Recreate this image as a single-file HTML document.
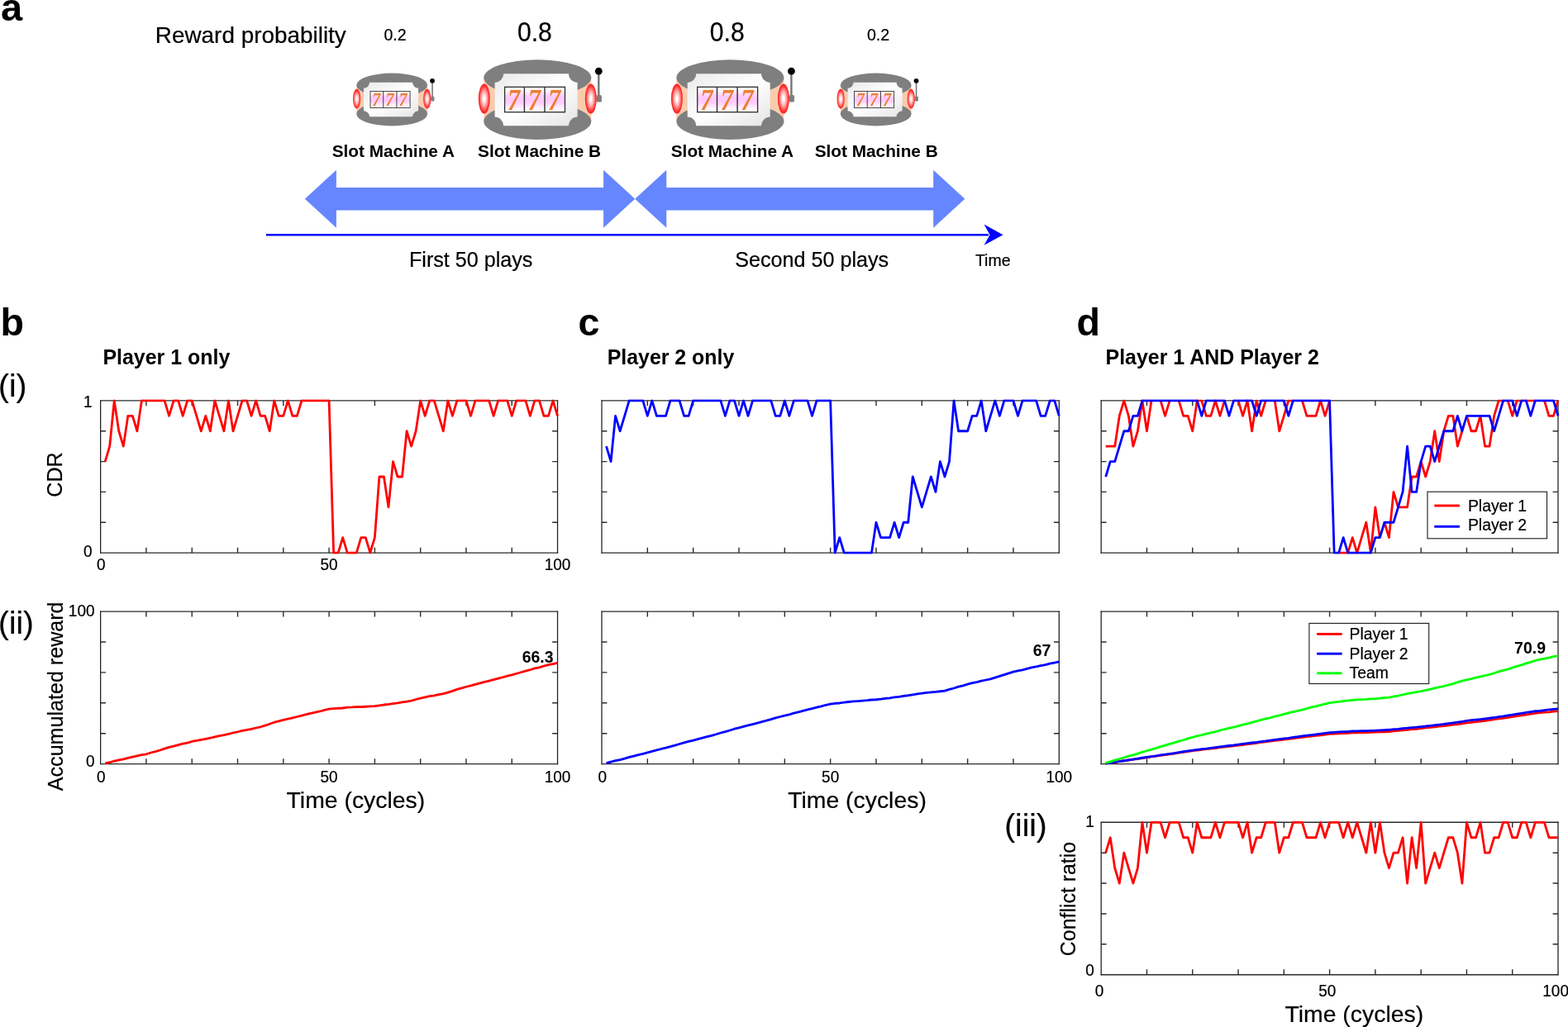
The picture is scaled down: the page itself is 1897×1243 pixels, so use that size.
<!DOCTYPE html>
<html lang="en"><head><meta charset="utf-8"><title>Figure</title>
<style>html,body{margin:0;padding:0;background:#fff}body{width:1897px;height:1243px;overflow:hidden}svg{display:block}text{font-family:"Liberation Sans",sans-serif}.r{stroke:#000;stroke-width:0.2px}.sv{font-family:"Liberation Serif",serif;font-style:italic;font-weight:bold}</style>
</head><body>
<svg width="1897" height="1243" viewBox="0 0 1897 1243">
<defs>
<radialGradient id="lamp" cx="50%" cy="50%" r="50%"><stop offset="0" stop-color="#fff"/><stop offset="0.12" stop-color="#fff"/><stop offset="0.5" stop-color="#ffa8a8"/><stop offset="0.85" stop-color="#ff3434"/><stop offset="1" stop-color="#ff1a1a"/></radialGradient>
<linearGradient id="reel" x1="0" y1="0" x2="0" y2="1"><stop offset="0" stop-color="#fff"/><stop offset="0.1" stop-color="#fffbff"/><stop offset="0.38" stop-color="#ffcaff"/><stop offset="0.6" stop-color="#ffcaff"/><stop offset="0.9" stop-color="#fffbff"/><stop offset="1" stop-color="#fff"/></linearGradient>
<linearGradient id="panel" x1="0" y1="0" x2="1" y2="1"><stop offset="0" stop-color="#e9e9e9"/><stop offset="0.5" stop-color="#ffffff"/><stop offset="1" stop-color="#e4e4e4"/></linearGradient>
<g id="slot">
<rect x="-65" y="-26.5" width="130" height="52.8" fill="#f8cbad"/>
<ellipse cx="0" cy="-26.5" rx="65" ry="21.8" fill="#7f7f7f"/>
<ellipse cx="0" cy="26.3" rx="65" ry="22" fill="#7f7f7f"/>
<path d="M74 -34V-2" stroke="#757575" stroke-width="2.4" fill="none"/>
<rect x="71.2" y="-5.6" width="6.4" height="8.6" rx="1.5" fill="#7f7f7f"/>
<circle cx="74" cy="-34.4" r="4.4" fill="#000"/>
<path d="M-41.1 -31.3H37.7A10.6 10.6 0 0 0 48.3 -20.7V21A10.6 10.6 0 0 0 37.7 31.6H-41.1A10.6 10.6 0 0 0 -51.7 21V-20.7A10.6 10.6 0 0 0 -41.1 -31.3Z" fill="url(#panel)"/>
<ellipse cx="-64.5" cy="-1.2" rx="7" ry="18" fill="url(#lamp)"/>
<ellipse cx="64.5" cy="-1.2" rx="7" ry="18" fill="url(#lamp)"/>
<rect x="-39.7" y="-15.3" width="72.9" height="30.4" fill="url(#reel)" stroke="#2e2e2e" stroke-width="1.3"/>
<path d="M-15.9 -15.3V15.1M8.7 -15.3V15.1" stroke="#2e2e2e" stroke-width="1.4" fill="none"/>
<text class="sv" transform="translate(-28.6 12.1) scale(0.9 1.035)" font-size="34" text-anchor="middle" fill="#ed7d31">7</text>
<text class="sv" transform="translate(-4 12.1) scale(0.9 1.035)" font-size="34" text-anchor="middle" fill="#ed7d31">7</text>
<text class="sv" transform="translate(20.4 12.1) scale(0.9 1.035)" font-size="34" text-anchor="middle" fill="#ed7d31">7</text>
</g>
</defs>
<rect width="1897" height="1243" fill="#fff"/>
<text x="0.9" y="24.7" font-size="47" font-weight="bold" text-anchor="start" fill="#000">a</text>
<text x="187.8" y="51.7" font-size="27.9" font-weight="normal" text-anchor="start" fill="#000" class="r">Reward probability</text>
<text transform="translate(478 48.8) scale(1 1.04)" font-size="19.6" font-weight="normal" text-anchor="middle" fill="#000" class="r">0.2</text>
<text class="r" transform="translate(646.9 50.1) scale(1 1.085)" font-size="30.2" text-anchor="middle">0.8</text>
<text class="r" transform="translate(879.8 50.1) scale(1 1.085)" font-size="30.2" text-anchor="middle">0.8</text>
<text transform="translate(1062.5 48.8) scale(1 1.04)" font-size="19.6" font-weight="normal" text-anchor="middle" fill="#000" class="r">0.2</text>
<use href="#slot" transform="translate(474.2 120.5) scale(0.66)"/>
<use href="#slot" transform="translate(650.3 120.6)"/>
<use href="#slot" transform="translate(883.4 120.6)"/>
<use href="#slot" transform="translate(1059.7 120.5) scale(0.66)"/>
<text x="475.8" y="190.4" font-size="20.8" font-weight="bold" text-anchor="middle" fill="#000">Slot Machine A</text>
<text x="652.6" y="190.4" font-size="20.8" font-weight="bold" text-anchor="middle" fill="#000">Slot Machine B</text>
<text x="885.9" y="190.4" font-size="20.8" font-weight="bold" text-anchor="middle" fill="#000">Slot Machine A</text>
<text x="1060.2" y="190.4" font-size="20.8" font-weight="bold" text-anchor="middle" fill="#000">Slot Machine B</text>
<path d="M368.8 240.7L406.9 205.7V227H730.1V205.7L768.2 240.7L730.1 275.7V254.4H406.9V275.7Z" fill="#6686ff"/>
<path d="M768.2 240.7L806.3 205.7V227H1129.2V205.7L1167.3 240.7L1129.2 275.7V254.4H806.3V275.7Z" fill="#6686ff"/>
<path d="M322 284.2H1196" stroke="#0000ff" stroke-width="2.6" fill="none"/>
<path d="M1213.5 284.2L1190.5 271.6L1197.5 284.2L1190.5 296.8Z" fill="#0000ff"/>
<text x="569.7" y="323" font-size="25.15" font-weight="normal" text-anchor="middle" fill="#000" class="r">First 50 plays</text>
<text x="982.2" y="323" font-size="25.15" font-weight="normal" text-anchor="middle" fill="#000" class="r">Second 50 plays</text>
<text x="1201.2" y="322.3" font-size="19.5" font-weight="normal" text-anchor="middle" fill="#000" class="r">Time</text>
<text x="0.4" y="405.9" font-size="46.6" font-weight="bold" text-anchor="start" fill="#000">b</text>
<text x="699.5" y="406.2" font-size="46.6" font-weight="bold" text-anchor="start" fill="#000">c</text>
<text x="1302.5" y="405.9" font-size="46.6" font-weight="bold" text-anchor="start" fill="#000">d</text>
<text x="124.4" y="440.6" font-size="24.95" font-weight="bold" text-anchor="start" fill="#000">Player 1 only</text>
<text x="734.7" y="440.5" font-size="24.9" font-weight="bold" text-anchor="start" fill="#000">Player 2 only</text>
<text x="1337.5" y="440.6" font-size="24.95" font-weight="bold" text-anchor="start" fill="#000">Player 1 AND Player 2</text>
<text x="-1.9" y="479.6" font-size="38.7" font-weight="normal" text-anchor="start" fill="#000" class="r">(i)</text>
<text x="-1.9" y="767" font-size="38.4" font-weight="normal" text-anchor="start" fill="#000" class="r">(ii)</text>
<text x="1215.2" y="1011.9" font-size="38.7" font-weight="normal" text-anchor="start" fill="#000" class="r">(iii)</text>
<path d="M121.65 484.3V669.7M674.55 484.3V669.7" fill="none" stroke="#1e1e1e" stroke-width="1.25"/>
<path d="M121.05 484.9H675.15M121.05 669.1H675.15" fill="none" stroke="#2b2b2b" stroke-width="1.4"/>
<path d="M176.94 669.1v-6.4M176.94 484.9v6.4M232.23 669.1v-6.4M232.23 484.9v6.4M287.52 669.1v-6.4M287.52 484.9v6.4M342.81 669.1v-6.4M342.81 484.9v6.4M398.1 669.1v-6.4M398.1 484.9v6.4M453.39 669.1v-6.4M453.39 484.9v6.4M508.68 669.1v-6.4M508.68 484.9v6.4M563.97 669.1v-6.4M563.97 484.9v6.4M619.26 669.1v-6.4M619.26 484.9v6.4M121.65 632.26h6.4M674.55 632.26h-6.4M121.65 595.42h6.4M674.55 595.42h-6.4M121.65 558.58h6.4M674.55 558.58h-6.4M121.65 521.74h6.4M674.55 521.74h-6.4" fill="none" stroke="#2b2b2b" stroke-width="1.4"/>
<path d="M728 484.3V669.7M1281.3 484.3V669.7" fill="none" stroke="#1e1e1e" stroke-width="1.25"/>
<path d="M727.4 484.9H1281.9M727.4 669.1H1281.9" fill="none" stroke="#2b2b2b" stroke-width="1.4"/>
<path d="M783.33 669.1v-6.4M783.33 484.9v6.4M838.66 669.1v-6.4M838.66 484.9v6.4M893.99 669.1v-6.4M893.99 484.9v6.4M949.32 669.1v-6.4M949.32 484.9v6.4M1004.65 669.1v-6.4M1004.65 484.9v6.4M1059.98 669.1v-6.4M1059.98 484.9v6.4M1115.31 669.1v-6.4M1115.31 484.9v6.4M1170.64 669.1v-6.4M1170.64 484.9v6.4M1225.97 669.1v-6.4M1225.97 484.9v6.4M728 632.26h6.4M1281.3 632.26h-6.4M728 595.42h6.4M1281.3 595.42h-6.4M728 558.58h6.4M1281.3 558.58h-6.4M728 521.74h6.4M1281.3 521.74h-6.4" fill="none" stroke="#2b2b2b" stroke-width="1.4"/>
<path d="M1332.2 484.3V669.7M1885 484.3V669.7" fill="none" stroke="#1e1e1e" stroke-width="1.25"/>
<path d="M1331.6 484.9H1885.6M1331.6 669.1H1885.6" fill="none" stroke="#2b2b2b" stroke-width="1.4"/>
<path d="M1387.48 669.1v-6.4M1387.48 484.9v6.4M1442.76 669.1v-6.4M1442.76 484.9v6.4M1498.04 669.1v-6.4M1498.04 484.9v6.4M1553.32 669.1v-6.4M1553.32 484.9v6.4M1608.6 669.1v-6.4M1608.6 484.9v6.4M1663.88 669.1v-6.4M1663.88 484.9v6.4M1719.16 669.1v-6.4M1719.16 484.9v6.4M1774.44 669.1v-6.4M1774.44 484.9v6.4M1829.72 669.1v-6.4M1829.72 484.9v6.4M1332.2 632.26h6.4M1885 632.26h-6.4M1332.2 595.42h6.4M1885 595.42h-6.4M1332.2 558.58h6.4M1885 558.58h-6.4M1332.2 521.74h6.4M1885 521.74h-6.4" fill="none" stroke="#2b2b2b" stroke-width="1.4"/>
<clipPath id="c0"><rect x="119.95" y="483.2" width="556.3" height="187.6"/></clipPath>
<polyline points="127.18,558.58 132.71,540.16 138.24,484.9 143.77,521.74 149.3,540.16 154.82,503.32 160.35,503.32 165.88,521.74 171.41,484.9 176.94,484.9 182.47,484.9 188,484.9 193.53,484.9 199.06,484.9 204.59,503.32 210.11,484.9 215.64,484.9 221.17,503.32 226.7,484.9 232.23,484.9 237.76,503.32 243.29,521.74 248.82,503.32 254.35,521.74 259.88,484.9 265.4,503.32 270.93,521.74 276.46,484.9 281.99,521.74 287.52,503.32 293.05,484.9 298.58,484.9 304.11,503.32 309.64,484.9 315.16,503.32 320.69,503.32 326.22,521.74 331.75,484.9 337.28,503.32 342.81,503.32 348.34,484.9 353.87,503.32 359.4,503.32 364.93,484.9 370.46,484.9 375.98,484.9 381.51,484.9 387.04,484.9 392.57,484.9 398.1,484.9 403.63,669.1 409.16,669.1 414.69,650.68 420.22,669.1 425.75,669.1 431.27,669.1 436.8,650.68 442.33,650.68 447.86,669.1 453.39,650.68 458.92,577 464.45,577 469.98,613.84 475.51,558.58 481.03,577 486.56,577 492.09,521.74 497.62,540.16 503.15,521.74 508.68,484.9 514.21,503.32 519.74,484.9 525.27,484.9 530.8,503.32 536.33,521.74 541.85,484.9 547.38,503.32 552.91,484.9 558.44,484.9 563.97,484.9 569.5,503.32 575.03,484.9 580.56,484.9 586.09,484.9 591.62,484.9 597.14,503.32 602.67,484.9 608.2,484.9 613.73,484.9 619.26,503.32 624.79,484.9 630.32,484.9 635.85,484.9 641.38,503.32 646.9,484.9 652.43,484.9 657.96,503.32 663.49,503.32 669.02,484.9 674.55,503.32" fill="none" stroke="#ff0000" stroke-width="2.8" stroke-linejoin="round" clip-path="url(#c0)"/>
<clipPath id="c1"><rect x="726.3" y="483.2" width="556.7" height="187.6"/></clipPath>
<polyline points="733.53,540.16 739.07,558.58 744.6,503.32 750.13,521.74 755.66,503.32 761.2,484.9 766.73,484.9 772.26,484.9 777.8,484.9 783.33,503.32 788.86,484.9 794.4,503.32 799.93,503.32 805.46,503.32 811,484.9 816.53,484.9 822.06,484.9 827.59,503.32 833.13,503.32 838.66,484.9 844.19,484.9 849.73,484.9 855.26,484.9 860.79,484.9 866.33,484.9 871.86,484.9 877.39,503.32 882.92,484.9 888.46,484.9 893.99,503.32 899.52,484.9 905.06,503.32 910.59,484.9 916.12,484.9 921.65,484.9 927.19,484.9 932.72,484.9 938.25,503.32 943.79,503.32 949.32,484.9 954.85,503.32 960.39,484.9 965.92,484.9 971.45,484.9 976.98,484.9 982.52,503.32 988.05,484.9 993.58,484.9 999.12,484.9 1004.65,484.9 1010.18,669.1 1015.72,650.68 1021.25,669.1 1026.78,669.1 1032.32,669.1 1037.85,669.1 1043.38,669.1 1048.91,669.1 1054.45,669.1 1059.98,632.26 1065.51,650.68 1071.05,650.68 1076.58,650.68 1082.11,632.26 1087.64,650.68 1093.18,632.26 1098.71,632.26 1104.24,577 1109.78,595.42 1115.31,613.84 1120.84,595.42 1126.38,577 1131.91,595.42 1137.44,558.58 1142.97,577 1148.51,558.58 1154.04,484.9 1159.57,521.74 1165.11,521.74 1170.64,521.74 1176.17,503.32 1181.71,503.32 1187.24,484.9 1192.77,521.74 1198.3,503.32 1203.84,484.9 1209.37,503.32 1214.9,484.9 1220.44,484.9 1225.97,484.9 1231.5,503.32 1237.04,484.9 1242.57,484.9 1248.1,484.9 1253.63,484.9 1259.17,503.32 1264.7,503.32 1270.23,484.9 1275.77,484.9 1281.3,503.32" fill="none" stroke="#0000ff" stroke-width="2.8" stroke-linejoin="round" clip-path="url(#c1)"/>
<clipPath id="c2"><rect x="1330.5" y="483.6" width="556.2" height="187.2"/></clipPath>
<polyline points="1337.73,540.16 1343.26,540.16 1348.78,540.16 1354.31,503.32 1359.84,484.9 1365.37,503.32 1370.9,540.16 1376.42,521.74 1381.95,484.9 1387.48,521.74 1393.01,484.9" fill="none" stroke="#ff0000" stroke-width="2.8" stroke-linejoin="round" clip-path="url(#c2)"/>
<polyline points="1393.01,484.9 1398.54,484.9 1404.06,484.9" fill="none" stroke="#ff0000" stroke-width="1.5" stroke-linejoin="round" clip-path="url(#c2)"/>
<polyline points="1404.06,484.9 1409.59,503.32 1415.12,484.9" fill="none" stroke="#ff0000" stroke-width="2.8" stroke-linejoin="round" clip-path="url(#c2)"/>
<polyline points="1415.12,484.9 1420.65,484.9 1426.18,484.9" fill="none" stroke="#ff0000" stroke-width="1.5" stroke-linejoin="round" clip-path="url(#c2)"/>
<polyline points="1426.18,484.9 1431.7,503.32 1437.23,503.32 1442.76,521.74 1448.29,484.9 1453.82,484.9 1459.34,503.32 1464.87,503.32 1470.4,484.9 1475.93,503.32 1481.46,484.9" fill="none" stroke="#ff0000" stroke-width="2.8" stroke-linejoin="round" clip-path="url(#c2)"/>
<polyline points="1481.46,484.9 1486.98,503.32 1492.51,484.9 1498.04,484.9" fill="none" stroke="#ff0000" stroke-width="1.5" stroke-linejoin="round" clip-path="url(#c2)"/>
<polyline points="1498.04,484.9 1503.57,503.32 1509.1,484.9 1514.62,521.74 1520.15,484.9 1525.68,503.32 1531.21,484.9" fill="none" stroke="#ff0000" stroke-width="2.8" stroke-linejoin="round" clip-path="url(#c2)"/>
<polyline points="1531.21,484.9 1536.74,484.9 1542.26,484.9" fill="none" stroke="#ff0000" stroke-width="1.5" stroke-linejoin="round" clip-path="url(#c2)"/>
<polyline points="1542.26,484.9 1547.79,521.74 1553.32,503.32 1558.85,484.9 1564.38,484.9" fill="none" stroke="#ff0000" stroke-width="2.8" stroke-linejoin="round" clip-path="url(#c2)"/>
<polyline points="1564.38,484.9 1569.9,484.9 1575.43,484.9" fill="none" stroke="#ff0000" stroke-width="1.5" stroke-linejoin="round" clip-path="url(#c2)"/>
<polyline points="1575.43,484.9 1580.96,503.32 1586.49,503.32 1592.02,503.32 1597.54,484.9 1603.07,503.32 1608.6,484.9" fill="none" stroke="#ff0000" stroke-width="2.8" stroke-linejoin="round" clip-path="url(#c2)"/>
<polyline points="1608.6,484.9 1614.13,669.1 1619.66,669.1" fill="none" stroke="#ff0000" stroke-width="1.5" stroke-linejoin="round" clip-path="url(#c2)"/>
<polyline points="1619.66,669.1 1625.18,669.1 1630.71,669.1 1636.24,650.68 1641.77,669.1 1647.3,650.68 1652.82,632.26 1658.35,669.1 1663.88,613.84 1669.41,650.68" fill="none" stroke="#ff0000" stroke-width="2.8" stroke-linejoin="round" clip-path="url(#c2)"/>
<polyline points="1669.41,650.68 1674.94,632.26" fill="none" stroke="#ff0000" stroke-width="1.5" stroke-linejoin="round" clip-path="url(#c2)"/>
<polyline points="1674.94,632.26 1680.46,650.68 1685.99,595.42 1691.52,613.84 1697.05,613.84 1702.58,613.84 1708.1,577 1713.63,577 1719.16,558.58 1724.69,577 1730.22,558.58 1735.74,521.74 1741.27,558.58 1746.8,521.74 1752.33,503.32 1757.86,503.32 1763.38,540.16 1768.91,521.74" fill="none" stroke="#ff0000" stroke-width="2.8" stroke-linejoin="round" clip-path="url(#c2)"/>
<polyline points="1768.91,521.74 1774.44,503.32" fill="none" stroke="#ff0000" stroke-width="1.5" stroke-linejoin="round" clip-path="url(#c2)"/>
<polyline points="1774.44,503.32 1779.97,521.74 1785.5,521.74 1791.02,503.32 1796.55,540.16 1802.08,540.16 1807.61,503.32 1813.14,484.9 1818.66,484.9" fill="none" stroke="#ff0000" stroke-width="2.8" stroke-linejoin="round" clip-path="url(#c2)"/>
<polyline points="1818.66,484.9 1824.19,484.9" fill="none" stroke="#ff0000" stroke-width="1.5" stroke-linejoin="round" clip-path="url(#c2)"/>
<polyline points="1824.19,484.9 1829.72,503.32 1835.25,484.9 1840.78,484.9" fill="none" stroke="#ff0000" stroke-width="2.8" stroke-linejoin="round" clip-path="url(#c2)"/>
<polyline points="1840.78,484.9 1846.3,484.9" fill="none" stroke="#ff0000" stroke-width="1.5" stroke-linejoin="round" clip-path="url(#c2)"/>
<polyline points="1846.3,484.9 1851.83,484.9 1857.36,484.9" fill="none" stroke="#ff0000" stroke-width="2.8" stroke-linejoin="round" clip-path="url(#c2)"/>
<polyline points="1857.36,484.9 1862.89,484.9 1868.42,484.9" fill="none" stroke="#ff0000" stroke-width="1.5" stroke-linejoin="round" clip-path="url(#c2)"/>
<polyline points="1868.42,484.9 1873.94,503.32 1879.47,503.32 1885,484.9" fill="none" stroke="#ff0000" stroke-width="2.8" stroke-linejoin="round" clip-path="url(#c2)"/>
<clipPath id="c3"><rect x="1330.5" y="483.2" width="556.2" height="187.6"/></clipPath>
<polyline points="1337.73,577 1343.26,558.58 1348.78,558.58 1354.31,540.16 1359.84,521.74 1365.37,521.74 1370.9,503.32 1376.42,503.32 1381.95,484.9 1387.48,484.9 1393.01,484.9 1398.54,484.9 1404.06,484.9 1409.59,484.9 1415.12,484.9 1420.65,484.9 1426.18,484.9 1431.7,484.9 1437.23,484.9 1442.76,484.9 1448.29,484.9 1453.82,503.32 1459.34,484.9 1464.87,484.9 1470.4,484.9 1475.93,484.9 1481.46,484.9 1486.98,503.32 1492.51,484.9 1498.04,484.9 1503.57,484.9 1509.1,484.9 1514.62,484.9 1520.15,503.32 1525.68,484.9 1531.21,484.9 1536.74,484.9 1542.26,484.9 1547.79,484.9 1553.32,484.9 1558.85,503.32 1564.38,484.9 1569.9,484.9 1575.43,484.9 1580.96,484.9 1586.49,484.9 1592.02,484.9 1597.54,484.9 1603.07,484.9 1608.6,484.9 1614.13,669.1 1619.66,669.1 1625.18,650.68 1630.71,669.1 1636.24,669.1 1641.77,669.1 1647.3,669.1 1652.82,669.1 1658.35,669.1 1663.88,650.68 1669.41,650.68 1674.94,632.26 1680.46,632.26 1685.99,632.26 1691.52,613.84 1697.05,595.42 1702.58,540.16 1708.1,595.42 1713.63,595.42 1719.16,558.58 1724.69,540.16 1730.22,540.16 1735.74,558.58 1741.27,540.16 1746.8,521.74 1752.33,521.74 1757.86,521.74 1763.38,503.32 1768.91,521.74 1774.44,503.32 1779.97,503.32 1785.5,503.32 1791.02,503.32 1796.55,503.32 1802.08,503.32 1807.61,521.74 1813.14,503.32 1818.66,484.9 1824.19,484.9 1829.72,484.9 1835.25,503.32 1840.78,484.9 1846.3,484.9 1851.83,503.32 1857.36,484.9 1862.89,484.9 1868.42,484.9 1873.94,484.9 1879.47,484.9 1885,503.32" fill="none" stroke="#0000ff" stroke-width="2.8" stroke-linejoin="round" clip-path="url(#c3)"/>
<text transform="translate(122.35 689.9) scale(1 1.04)" font-size="19" font-weight="normal" text-anchor="middle" fill="#000" class="r">0</text>
<text transform="translate(398.1 689.9) scale(1 1.04)" font-size="19" font-weight="normal" text-anchor="middle" fill="#000" class="r">50</text>
<text transform="translate(674.55 689.9) scale(1 1.04)" font-size="19" font-weight="normal" text-anchor="middle" fill="#000" class="r">100</text>
<text transform="translate(111.45 492.8) scale(1 1.04)" font-size="19" font-weight="normal" text-anchor="end" fill="#000" class="r">1</text>
<text transform="translate(111.45 673.6) scale(1 1.04)" font-size="19" font-weight="normal" text-anchor="end" fill="#000" class="r">0</text>
<text class="r" transform="translate(75 574.5) rotate(-90)" font-size="25.1" text-anchor="middle">CDR</text>
<rect x="1727" y="595.2" width="144.5" height="56.6" fill="#fff" stroke="#1a1a1a" stroke-width="1.1"/>
<path d="M1735.3 612H1765.9" stroke="#ff0000" stroke-width="2.9"/><path d="M1735.3 637.3H1765.9" stroke="#0000ff" stroke-width="2.9"/>
<text x="1775.9" y="618.6" font-size="19.4" font-weight="normal" text-anchor="start" fill="#000" class="r">Player 1</text>
<text x="1775.9" y="641.8" font-size="19.4" font-weight="normal" text-anchor="start" fill="#000" class="r">Player 2</text>
<path d="M121.65 739.5V925.2M674.55 739.5V925.2" fill="none" stroke="#1e1e1e" stroke-width="1.25"/>
<path d="M121.05 740.1H675.15M121.05 924.6H675.15" fill="none" stroke="#2b2b2b" stroke-width="1.4"/>
<path d="M176.94 924.6v-6.4M176.94 740.1v6.4M232.23 924.6v-6.4M232.23 740.1v6.4M287.52 924.6v-6.4M287.52 740.1v6.4M342.81 924.6v-6.4M342.81 740.1v6.4M398.1 924.6v-6.4M398.1 740.1v6.4M453.39 924.6v-6.4M453.39 740.1v6.4M508.68 924.6v-6.4M508.68 740.1v6.4M563.97 924.6v-6.4M563.97 740.1v6.4M619.26 924.6v-6.4M619.26 740.1v6.4M121.65 887.7h6.4M674.55 887.7h-6.4M121.65 850.8h6.4M674.55 850.8h-6.4M121.65 813.9h6.4M674.55 813.9h-6.4M121.65 777h6.4M674.55 777h-6.4" fill="none" stroke="#2b2b2b" stroke-width="1.4"/>
<path d="M728 739.5V925.2M1281.3 739.5V925.2" fill="none" stroke="#1e1e1e" stroke-width="1.25"/>
<path d="M727.4 740.1H1281.9M727.4 924.6H1281.9" fill="none" stroke="#2b2b2b" stroke-width="1.4"/>
<path d="M783.33 924.6v-6.4M783.33 740.1v6.4M838.66 924.6v-6.4M838.66 740.1v6.4M893.99 924.6v-6.4M893.99 740.1v6.4M949.32 924.6v-6.4M949.32 740.1v6.4M1004.65 924.6v-6.4M1004.65 740.1v6.4M1059.98 924.6v-6.4M1059.98 740.1v6.4M1115.31 924.6v-6.4M1115.31 740.1v6.4M1170.64 924.6v-6.4M1170.64 740.1v6.4M1225.97 924.6v-6.4M1225.97 740.1v6.4M728 887.7h6.4M1281.3 887.7h-6.4M728 850.8h6.4M1281.3 850.8h-6.4M728 813.9h6.4M1281.3 813.9h-6.4M728 777h6.4M1281.3 777h-6.4" fill="none" stroke="#2b2b2b" stroke-width="1.4"/>
<path d="M1332.2 739.5V925.2M1885 739.5V925.2" fill="none" stroke="#1e1e1e" stroke-width="1.25"/>
<path d="M1331.6 740.1H1885.6M1331.6 924.6H1885.6" fill="none" stroke="#2b2b2b" stroke-width="1.4"/>
<path d="M1387.48 924.6v-6.4M1387.48 740.1v6.4M1442.76 924.6v-6.4M1442.76 740.1v6.4M1498.04 924.6v-6.4M1498.04 740.1v6.4M1553.32 924.6v-6.4M1553.32 740.1v6.4M1608.6 924.6v-6.4M1608.6 740.1v6.4M1663.88 924.6v-6.4M1663.88 740.1v6.4M1719.16 924.6v-6.4M1719.16 740.1v6.4M1774.44 924.6v-6.4M1774.44 740.1v6.4M1829.72 924.6v-6.4M1829.72 740.1v6.4M1332.2 887.7h6.4M1885 887.7h-6.4M1332.2 850.8h6.4M1885 850.8h-6.4M1332.2 813.9h6.4M1885 813.9h-6.4M1332.2 777h6.4M1885 777h-6.4" fill="none" stroke="#2b2b2b" stroke-width="1.4"/>
<clipPath id="c4"><rect x="119.95" y="738.4" width="556.3" height="187.9"/></clipPath>
<polyline points="127.18,923.86 132.71,922.73 138.24,921.13 143.77,919.87 149.3,918.8 154.82,917.41 160.35,916.14 165.88,914.82 171.41,913.74 176.94,912.79 182.47,911 188,909.65 193.53,908.02 199.06,906.15 204.59,904.46 210.11,903.1 215.64,901.54 221.17,900.07 226.7,899.05 232.23,897.48 237.76,896.44 243.29,895.26 248.82,894.42 254.35,893.24 259.88,891.79 265.4,890.57 270.93,889.71 276.46,888.46 281.99,886.99 287.52,885.76 293.05,884.37 298.58,883.42 304.11,882.29 309.64,881 315.16,879.77 320.69,878.13 326.22,876.2 331.75,874.23 337.28,872.88 342.81,871.46 348.34,870.1 353.87,868.85 359.4,867.49 364.93,866.13 370.46,864.64 375.98,863.36 381.51,862.15 387.04,860.97 392.57,859.32 398.1,858.18 403.63,857.71 409.16,857.23 414.69,856.99 420.22,856.19 425.75,855.97 431.27,855.55 436.8,855.62 442.33,855.27 447.86,854.83 453.39,854.67 458.92,853.84 464.45,853.01 469.98,852.49 475.51,851.58 481.03,850.98 486.56,849.93 492.09,849.1 497.62,848.03 503.15,846.52 508.68,845.08 514.21,843.8 519.74,842.71 525.27,841.76 530.8,840.61 536.33,839.55 541.85,838.09 547.38,836.34 552.91,834.43 558.44,832.94 563.97,831.24 569.5,829.95 575.03,828.34 580.56,826.84 586.09,825.41 591.62,824.05 597.14,822.66 602.67,821.2 608.2,819.73 613.73,818.17 619.26,816.85 624.79,815.26 630.32,813.73 635.85,812.1 641.38,810.71 646.9,808.92 652.43,807.79 657.96,806.17 663.49,804.72 669.02,803.56 674.55,802.28" fill="none" stroke="#ff0000" stroke-width="2.8" stroke-linejoin="round" clip-path="url(#c4)"/>
<clipPath id="c5"><rect x="726.3" y="738.4" width="556.7" height="187.9"/></clipPath>
<polyline points="733.53,923.68 739.07,922.06 744.6,920.65 750.13,919.63 755.66,918.2 761.2,916.46 766.73,915.09 772.26,913.7 777.8,912.45 783.33,910.95 788.86,909.42 794.4,907.95 799.93,906.48 805.46,905.19 811,903.6 816.53,902.14 822.06,900.52 827.59,898.92 833.13,897.46 838.66,896.19 844.19,894.64 849.73,893.15 855.26,891.7 860.79,890.27 866.33,888.74 871.86,887.01 877.39,885.55 882.92,883.99 888.46,882.23 893.99,880.87 899.52,879.39 905.06,877.89 910.59,876.56 916.12,875.18 921.65,873.57 927.19,872.18 932.72,870.54 938.25,868.84 943.79,867.51 949.32,866.11 954.85,864.85 960.39,863.13 965.92,861.78 971.45,860.4 976.98,858.92 982.52,857.58 988.05,856.17 993.58,854.96 999.12,853.28 1004.65,852.09 1010.18,851.26 1015.72,850.99 1021.25,850.1 1026.78,849.49 1032.32,848.96 1037.85,848.53 1043.38,848.06 1048.91,847.63 1054.45,847 1059.98,846.74 1065.51,846.08 1071.05,845.27 1076.58,844.81 1082.11,843.91 1087.64,843.42 1093.18,842.39 1098.71,841.74 1104.24,840.84 1109.78,839.84 1115.31,839.18 1120.84,838.45 1126.38,837.93 1131.91,837.42 1137.44,836.74 1142.97,836.04 1148.51,834.36 1154.04,833.01 1159.57,831.1 1165.11,829.8 1170.64,828.11 1176.17,826.67 1181.71,825.68 1187.24,824.14 1192.77,823 1198.3,821.83 1203.84,820.1 1209.37,818.36 1214.9,816.56 1220.44,814.86 1225.97,813.16 1231.5,811.99 1237.04,810.78 1242.57,809.39 1248.1,807.95 1253.63,806.89 1259.17,805.65 1264.7,804.72 1270.23,803.2 1275.77,802.07 1281.3,800.99" fill="none" stroke="#0000ff" stroke-width="2.8" stroke-linejoin="round" clip-path="url(#c5)"/>
<clipPath id="c6"><rect x="1330.5" y="738.4" width="556.2" height="187.9"/></clipPath>
<polyline points="1337.73,924.05 1343.26,923.22 1348.78,922.39 1354.31,921.58 1359.84,920.75 1365.37,920 1370.9,919.16 1376.42,918.55 1381.95,917.66 1387.48,916.85 1393.01,915.94 1398.54,915.19 1404.06,914.33 1409.59,913.69 1415.12,912.8 1420.65,912.04 1426.18,911.16 1431.7,910.34 1437.23,909.65 1442.76,908.73 1448.29,908.13 1453.82,907.45 1459.34,906.65 1464.87,906.02 1470.4,905.49 1475.93,904.68 1481.46,904.16 1486.98,903.39 1492.51,902.84 1498.04,902.09 1503.57,901.5 1509.1,900.61 1514.62,900.05 1520.15,899.35 1525.68,898.48 1531.21,897.8 1536.74,897.23 1542.26,896.38 1547.79,895.77 1553.32,895.08 1558.85,894.38 1564.38,893.82 1569.9,892.99 1575.43,892.38 1580.96,891.66 1586.49,891.01 1592.02,890.48 1597.54,889.8 1603.07,889.18 1608.6,888.44 1614.13,888.22 1619.66,887.94 1625.18,887.6 1630.71,887.23 1636.24,886.96 1641.77,886.92 1647.3,886.63 1652.82,886.56 1658.35,886.41 1663.88,886.22 1669.41,885.91 1674.94,885.74 1680.46,885.49 1685.99,884.97 1691.52,884.38 1697.05,883.78 1702.58,883.37 1708.1,882.61 1713.63,882.27 1719.16,881.61 1724.69,880.97 1730.22,880.35 1735.74,879.95 1741.27,879.19 1746.8,878.66 1752.33,877.95 1757.86,877.17 1763.38,876.55 1768.91,875.81 1774.44,874.97 1779.97,874.38 1785.5,873.54 1791.02,873.04 1796.55,872.26 1802.08,871.65 1807.61,870.74 1813.14,869.93 1818.66,869.25 1824.19,868.43 1829.72,867.59 1835.25,866.74 1840.78,865.83 1846.3,865.13 1851.83,864.14 1857.36,863.35 1862.89,862.73 1868.42,862.16 1873.94,861.79 1879.47,861.03 1885,860.58" fill="none" stroke="#ff0000" stroke-width="2.8" stroke-linejoin="round" clip-path="url(#c6)"/>
<polyline points="1337.73,924.05 1343.26,923.26 1348.78,922.45 1354.31,921.55 1359.84,920.76 1365.37,919.94 1370.9,919.03 1376.42,918.07 1381.95,917.26 1387.48,916.48 1393.01,915.59 1398.54,914.88 1404.06,913.98 1409.59,913.21 1415.12,912.4 1420.65,911.59 1426.18,910.73 1431.7,909.75 1437.23,908.94 1442.76,908.18 1448.29,907.41 1453.82,906.71 1459.34,906.14 1464.87,905.42 1470.4,904.65 1475.93,903.92 1481.46,903.19 1486.98,902.49 1492.51,901.96 1498.04,901.17 1503.57,900.43 1509.1,899.69 1514.62,899.01 1520.15,898.36 1525.68,897.58 1531.21,896.94 1536.74,896.04 1542.26,895.33 1547.79,894.68 1553.32,893.97 1558.85,893.28 1564.38,892.41 1569.9,891.74 1575.43,890.94 1580.96,890.21 1586.49,889.54 1592.02,888.83 1597.54,888.05 1603.07,887.35 1608.6,886.59 1614.13,886.34 1619.66,885.97 1625.18,885.53 1630.71,885.37 1636.24,884.93 1641.77,884.89 1647.3,884.61 1652.82,884.54 1658.35,884.33 1663.88,884.19 1669.41,883.89 1674.94,883.61 1680.46,883.27 1685.99,882.63 1691.52,882.29 1697.05,881.71 1702.58,881.23 1708.1,880.61 1713.63,880.16 1719.16,879.58 1724.69,878.99 1730.22,878.27 1735.74,877.74 1741.27,877.06 1746.8,876.45 1752.33,875.54 1757.86,874.91 1763.38,874.11 1768.91,873.26 1774.44,872.39 1779.97,871.7 1785.5,871.11 1791.02,870.56 1796.55,869.91 1802.08,869.25 1807.61,868.51 1813.14,867.64 1818.66,866.92 1824.19,865.96 1829.72,865.19 1835.25,864.22 1840.78,863.32 1846.3,862.48 1851.83,861.55 1857.36,860.76 1862.89,860.28 1868.42,859.63 1873.94,858.89 1879.47,858.34 1885,857.81" fill="none" stroke="#0000ff" stroke-width="2.8" stroke-linejoin="round" clip-path="url(#c6)"/>
<polyline points="1337.73,923.31 1343.26,921.81 1348.78,920.05 1354.31,918.51 1359.84,916.78 1365.37,915.16 1370.9,913.78 1376.42,912.19 1381.95,910.2 1387.48,908.73 1393.01,907.2 1398.54,905.57 1404.06,903.59 1409.59,902.18 1415.12,900.37 1420.65,898.89 1426.18,897.18 1431.7,895.75 1437.23,893.89 1442.76,892.31 1448.29,890.78 1453.82,889.57 1459.34,888.11 1464.87,886.78 1470.4,885.68 1475.93,884.01 1481.46,882.72 1486.98,881.48 1492.51,880.23 1498.04,878.66 1503.57,877.08 1509.1,875.83 1514.62,874.3 1520.15,872.81 1525.68,871.46 1531.21,869.95 1536.74,868.76 1542.26,867.16 1547.79,865.9 1553.32,864.45 1558.85,862.88 1564.38,861.52 1569.9,860.48 1575.43,859.08 1580.96,857.66 1586.49,855.94 1592.02,854.8 1597.54,853.33 1603.07,852.09 1608.6,850.62 1614.13,849.95 1619.66,849.34 1625.18,848.69 1630.71,847.92 1636.24,847.29 1641.77,846.96 1647.3,846.53 1652.82,846.33 1658.35,845.92 1663.88,845.82 1669.41,845.11 1674.94,844.49 1680.46,844.16 1685.99,843 1691.52,842.15 1697.05,840.76 1702.58,839.63 1708.1,838.58 1713.63,837.64 1719.16,836.59 1724.69,835.28 1730.22,834.29 1735.74,832.79 1741.27,831.69 1746.8,830.5 1752.33,829.05 1757.86,827.6 1763.38,825.7 1768.91,824.09 1774.44,822.76 1779.97,821.65 1785.5,820.04 1791.02,818.92 1796.55,817.74 1802.08,816.3 1807.61,814.77 1813.14,812.93 1818.66,811.26 1824.19,810.01 1829.72,808.18 1835.25,806.4 1840.78,804.91 1846.3,802.88 1851.83,801.32 1857.36,799.51 1862.89,798.2 1868.42,797.01 1873.94,796.07 1879.47,794.71 1885,793.79" fill="none" stroke="#00ff00" stroke-width="2.8" stroke-linejoin="round" clip-path="url(#c6)"/>
<text transform="translate(122.35 946.9) scale(1 1.04)" font-size="19" font-weight="normal" text-anchor="middle" fill="#000" class="r">0</text>
<text transform="translate(398.1 946.9) scale(1 1.04)" font-size="19" font-weight="normal" text-anchor="middle" fill="#000" class="r">50</text>
<text transform="translate(674.55 946.9) scale(1 1.04)" font-size="19" font-weight="normal" text-anchor="middle" fill="#000" class="r">100</text>
<text transform="translate(114.55 745.5) scale(1 1.04)" font-size="19" font-weight="normal" text-anchor="end" fill="#000" class="r">100</text>
<text transform="translate(114.55 927.6) scale(1 1.04)" font-size="19" font-weight="normal" text-anchor="end" fill="#000" class="r">0</text>
<text transform="translate(728.7 946.9) scale(1 1.04)" font-size="19" font-weight="normal" text-anchor="middle" fill="#000" class="r">0</text>
<text transform="translate(1004.65 946.9) scale(1 1.04)" font-size="19" font-weight="normal" text-anchor="middle" fill="#000" class="r">50</text>
<text transform="translate(1281.3 946.9) scale(1 1.04)" font-size="19" font-weight="normal" text-anchor="middle" fill="#000" class="r">100</text>
<text class="r" transform="translate(76 842.8) rotate(-90)" font-size="25.1" text-anchor="middle">Accumulated reward</text>
<text x="430.4" y="977.5" font-size="28.4" font-weight="normal" text-anchor="middle" fill="#000" class="r">Time (cycles)</text>
<text x="1037" y="977.5" font-size="28.4" font-weight="normal" text-anchor="middle" fill="#000" class="r">Time (cycles)</text>
<text transform="translate(669.6 802.2) scale(1 1.04)" font-size="19.5" font-weight="bold" text-anchor="end" fill="#000">66.3</text>
<text transform="translate(1271.3 794.4) scale(1 1.04)" font-size="19.5" font-weight="bold" text-anchor="end" fill="#000">67</text>
<text transform="translate(1870 791.2) scale(1 1.04)" font-size="19.5" font-weight="bold" text-anchor="end" fill="#000">70.9</text>
<rect x="1583.9" y="754.4" width="144.8" height="73.1" fill="#fff" stroke="#1a1a1a" stroke-width="1.1"/>
<path d="M1593.2 767.4H1623.6" stroke="#ff0000" stroke-width="2.9"/>
<path d="M1593.2 791.2H1623.6" stroke="#0000ff" stroke-width="2.9"/>
<path d="M1593.2 814.8H1623.6" stroke="#00ff00" stroke-width="2.9"/>
<text x="1632.5" y="774.2" font-size="19.4" font-weight="normal" text-anchor="start" fill="#000" class="r">Player 1</text>
<text x="1632.5" y="797.8" font-size="19.4" font-weight="normal" text-anchor="start" fill="#000" class="r">Player 2</text>
<text x="1632.5" y="820.6" font-size="19.4" font-weight="normal" text-anchor="start" fill="#000" class="r">Team</text>
<path d="M1332.2 994.7V1180.3M1885 994.7V1180.3" fill="none" stroke="#1e1e1e" stroke-width="1.25"/>
<path d="M1331.6 995.3H1885.6M1331.6 1179.7H1885.6" fill="none" stroke="#2b2b2b" stroke-width="1.4"/>
<path d="M1387.48 1179.7v-6.4M1387.48 995.3v6.4M1442.76 1179.7v-6.4M1442.76 995.3v6.4M1498.04 1179.7v-6.4M1498.04 995.3v6.4M1553.32 1179.7v-6.4M1553.32 995.3v6.4M1608.6 1179.7v-6.4M1608.6 995.3v6.4M1663.88 1179.7v-6.4M1663.88 995.3v6.4M1719.16 1179.7v-6.4M1719.16 995.3v6.4M1774.44 1179.7v-6.4M1774.44 995.3v6.4M1829.72 1179.7v-6.4M1829.72 995.3v6.4M1332.2 1142.82h6.4M1885 1142.82h-6.4M1332.2 1105.94h6.4M1885 1105.94h-6.4M1332.2 1069.06h6.4M1885 1069.06h-6.4M1332.2 1032.18h6.4M1885 1032.18h-6.4" fill="none" stroke="#2b2b2b" stroke-width="1.4"/>
<clipPath id="c7"><rect x="1330.5" y="993.6" width="556.2" height="187.8"/></clipPath>
<polyline points="1337.73,1032.18 1343.26,1013.74 1348.78,1050.62 1354.31,1069.06 1359.84,1032.18 1365.37,1050.62 1370.9,1069.06 1376.42,1050.62 1381.95,995.3 1387.48,1032.18 1393.01,995.3 1398.54,995.3 1404.06,995.3 1409.59,1013.74 1415.12,995.3 1420.65,995.3 1426.18,995.3 1431.7,1013.74 1437.23,1013.74 1442.76,1032.18 1448.29,995.3 1453.82,1013.74 1459.34,1013.74 1464.87,1013.74 1470.4,995.3 1475.93,1013.74 1481.46,995.3 1486.98,995.3 1492.51,995.3 1498.04,995.3 1503.57,1013.74 1509.1,995.3 1514.62,1032.18 1520.15,1013.74 1525.68,1013.74 1531.21,995.3 1536.74,995.3 1542.26,995.3 1547.79,1032.18 1553.32,1013.74 1558.85,1013.74 1564.38,995.3 1569.9,995.3 1575.43,995.3 1580.96,1013.74 1586.49,1013.74 1592.02,1013.74 1597.54,995.3 1603.07,1013.74 1608.6,995.3 1614.13,995.3 1619.66,995.3 1625.18,1013.74 1630.71,995.3 1636.24,1013.74 1641.77,995.3 1647.3,1013.74 1652.82,1032.18 1658.35,995.3 1663.88,1032.18 1669.41,995.3 1674.94,1032.18 1680.46,1050.62 1685.99,1032.18 1691.52,1032.18 1697.05,1013.74 1702.58,1069.06 1708.1,1013.74 1713.63,1050.62 1719.16,995.3 1724.69,1069.06 1730.22,1050.62 1735.74,1032.18 1741.27,1050.62 1746.8,1032.18 1752.33,1013.74 1757.86,1013.74 1763.38,1032.18 1768.91,1069.06 1774.44,995.3 1779.97,1013.74 1785.5,1013.74 1791.02,995.3 1796.55,1032.18 1802.08,1032.18 1807.61,1013.74 1813.14,1013.74 1818.66,995.3 1824.19,995.3 1829.72,1013.74 1835.25,1013.74 1840.78,995.3 1846.3,995.3 1851.83,1013.74 1857.36,995.3 1862.89,995.3 1868.42,995.3 1873.94,1013.74 1879.47,1013.74 1885,1013.74" fill="none" stroke="#ff0000" stroke-width="2.8" stroke-linejoin="round" clip-path="url(#c7)"/>
<text transform="translate(1330 1205.5) scale(1 1.04)" font-size="19" font-weight="normal" text-anchor="middle" fill="#000" class="r">0</text>
<text transform="translate(1605.7 1205.5) scale(1 1.04)" font-size="19" font-weight="normal" text-anchor="middle" fill="#000" class="r">50</text>
<text transform="translate(1882.1 1205.5) scale(1 1.04)" font-size="19" font-weight="normal" text-anchor="middle" fill="#000" class="r">100</text>
<text transform="translate(1323.7 1001) scale(1 1.04)" font-size="19" font-weight="normal" text-anchor="end" fill="#000" class="r">1</text>
<text transform="translate(1323.7 1180.6) scale(1 1.04)" font-size="19" font-weight="normal" text-anchor="end" fill="#000" class="r">0</text>
<text class="r" transform="translate(1300.6 1088) rotate(-90)" font-size="24.9" text-anchor="middle">Conflict ratio</text>
<text x="1638.3" y="1236.6" font-size="28.4" font-weight="normal" text-anchor="middle" fill="#000" class="r">Time (cycles)</text>
</svg></body></html>
